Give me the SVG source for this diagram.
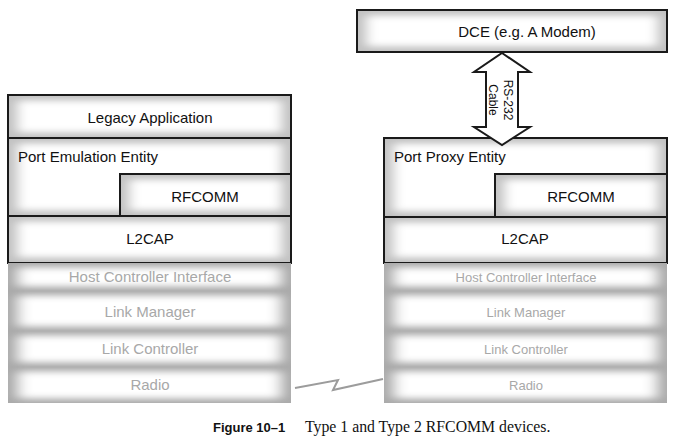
<svg xmlns="http://www.w3.org/2000/svg" width="678" height="441" viewBox="0 0 678 441">
<defs>
<filter id="glowA" x="0" y="0" width="1" height="1">
<feMorphology in="SourceAlpha" operator="erode" radius="10 6" result="e"/>
<feGaussianBlur in="e" stdDeviation="6 3" result="b"/>
<feFlood flood-color="#ffffff"/>
<feComposite in2="b" operator="in" result="w"/>
<feMerge><feMergeNode in="SourceGraphic"/><feMergeNode in="w"/></feMerge>
</filter>
<filter id="glowB" x="0" y="0" width="1" height="1">
<feMorphology in="SourceAlpha" operator="erode" radius="11 5" result="e"/>
<feGaussianBlur in="e" stdDeviation="7 3" result="b"/>
<feFlood flood-color="#ffffff"/>
<feComposite in2="b" operator="in" result="w"/>
<feMerge><feMergeNode in="SourceGraphic"/><feMergeNode in="w"/></feMerge>
</filter>
<style>
.up{fill:#c2c2c2;filter:url(#glowA);}
.lo{fill:#aaaaaa;filter:url(#glowB);}
.bd{fill:none;stroke:#1a1a1a;stroke-width:2;}
.t{font-family:"Liberation Sans",Arial,sans-serif;font-size:15px;fill:#111;}
.tl{font-family:"Liberation Sans",Arial,sans-serif;font-size:15px;fill:#a8a8a8;}
.tr{font-family:"Liberation Sans",Arial,sans-serif;font-size:13px;fill:#a8a8a8;}
.m{text-anchor:middle;}
.ar{fill:#fff;stroke:#1a1a1a;stroke-width:2;stroke-linejoin:miter;}
.at{font-family:"Liberation Sans",Arial,sans-serif;font-size:12px;fill:#111;text-anchor:middle;}
</style>
</defs>
<rect width="678" height="441" fill="#fff"/>

<g id="dce">
<rect class="up" x="357" y="10" width="310" height="42"/>
<rect class="bd" x="357" y="10" width="310" height="42"/>
<text class="t m" x="527" y="37">DCE (e.g. A Modem)</text>
</g>

<g id="left-legacy">
<rect class="up" x="8" y="95" width="283" height="43"/>
<rect class="bd" x="8" y="95" width="283" height="43"/>
<text class="t m" x="150" y="123">Legacy Application</text>
</g>
<g id="left-pee">
<rect class="up" x="8" y="138" width="283" height="78"/>
<rect class="bd" x="8" y="138" width="283" height="78"/>
<text class="t" x="18" y="162">Port Emulation Entity</text>
</g>
<g id="left-rfcomm">
<rect class="up" x="120" y="174" width="171" height="42"/>
<rect class="bd" x="120" y="174" width="171" height="42"/>
<text class="t m" x="205" y="202">RFCOMM</text>
</g>
<g id="left-l2cap">
<rect class="up" x="8" y="216" width="283" height="47"/>
<rect class="bd" x="8" y="216" width="283" height="47"/>
<text class="t m" x="150" y="244">L2CAP</text>
</g>
<g id="left-hci">
<rect class="lo" x="8" y="263" width="283" height="28"/>
<text class="tl m" x="150" y="282">Host Controller Interface</text>
</g>
<g id="left-lm">
<rect class="lo" x="8" y="291" width="283" height="40"/>
<text class="tl m" x="150" y="317">Link Manager</text>
</g>
<g id="left-lc">
<rect class="lo" x="8" y="331" width="283" height="36"/>
<text class="tl m" x="150" y="354">Link Controller</text>
</g>
<g id="left-radio">
<rect class="lo" x="8" y="367" width="283" height="36"/>
<text class="tl m" x="150" y="390">Radio</text>
</g>

<g id="right-ppe">
<rect class="up" x="384" y="138" width="283" height="79"/>
<rect class="bd" x="384" y="138" width="283" height="79"/>
<text class="t" x="394" y="162">Port Proxy Entity</text>
</g>
<g id="right-rfcomm">
<rect class="up" x="495" y="174" width="172" height="43"/>
<rect class="bd" x="495" y="174" width="172" height="43"/>
<text class="t m" x="581" y="202">RFCOMM</text>
</g>
<g id="right-l2cap">
<rect class="up" x="384" y="217" width="283" height="46"/>
<rect class="bd" x="384" y="217" width="283" height="46"/>
<text class="t m" x="525" y="244">L2CAP</text>
</g>
<g id="right-hci">
<rect class="lo" x="384" y="263" width="283" height="28"/>
<text class="tr m" x="526" y="282">Host Controller Interface</text>
</g>
<g id="right-lm">
<rect class="lo" x="384" y="291" width="283" height="40"/>
<text class="tr m" x="526" y="317">Link Manager</text>
</g>
<g id="right-lc">
<rect class="lo" x="384" y="331" width="283" height="36"/>
<text class="tr m" x="526" y="354">Link Controller</text>
</g>
<g id="right-radio">
<rect class="lo" x="384" y="367" width="283" height="36"/>
<text class="tr m" x="526" y="390">Radio</text>
</g>

<g id="connectors">
<polygon class="ar" points="502,53 530,72 518,72 518,127 530,127 502,145 474,127 486,127 486,72 474,72"/>
<g transform="translate(502,100) rotate(90)">
<text class="at" x="0" y="-1.5">RS-232</text>
<text class="at" x="0" y="13">Cable</text>
</g>
<polyline points="295,388 338,380 333,390 383,379" fill="none" stroke="#9c9c9c" stroke-width="2" stroke-linejoin="miter"/>
</g>

<g id="caption">
<text x="213" y="432" font-family="'Liberation Sans',Arial,sans-serif" font-size="13" font-weight="bold" fill="#111">Figure 10–1</text>
<text x="305" y="432" font-family="'Liberation Serif','Times New Roman',serif" font-size="15.8" fill="#111">Type 1 and Type 2 RFCOMM devices.</text>
</g>
</svg>
